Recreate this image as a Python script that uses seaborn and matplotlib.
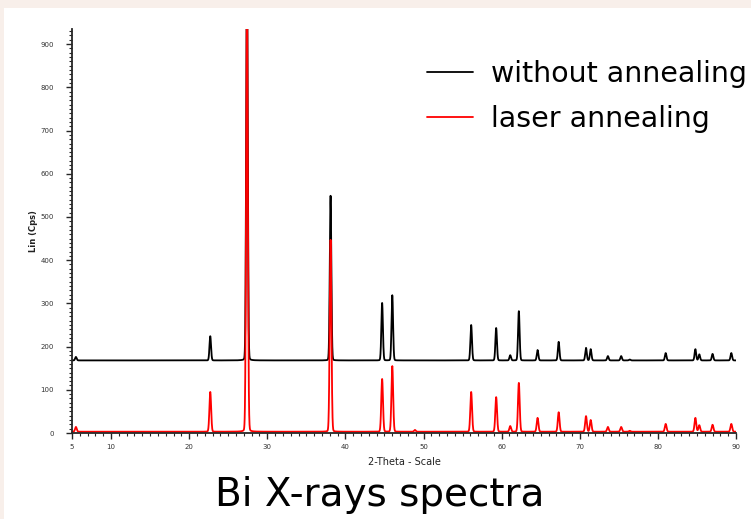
import numpy as np
import pandas as pd
import matplotlib
matplotlib.use("Agg")
import matplotlib.pyplot as plt
import seaborn as sns
from matplotlib.ticker import MultipleLocator, FixedLocator

# ---- data ----
series_names = ["without annealing", "laser annealing"]
series_colors = ["#000000", "#ff0000"]

# black trace (without annealing)
black_baseline = 168
black_pos = [5.5, 22.7, 27.4, 38.1, 44.7, 46.0, 56.1, 59.3, 61.1, 62.2, 64.6, 67.3,
             70.8, 71.4, 73.6, 75.3, 76.4, 81.0, 84.8, 85.3, 87.0, 89.4]
black_hgt = [176, 224, 1100, 549, 301, 319, 250, 243, 180, 282, 192, 211,
             197, 194, 178, 178, 170, 185, 194, 182, 183, 185]

# red trace (laser annealing)
red_baseline = 3
red_pos = [5.5, 22.7, 27.4, 38.1, 44.7, 46.0, 48.9, 56.1, 59.3, 61.1, 62.2, 64.6, 67.3,
           70.8, 71.4, 73.6, 75.3, 76.4, 81.0, 84.8, 85.3, 87.0, 89.4]
red_hgt = [14, 95, 1000, 447, 125, 155, 7, 95, 83, 16, 116, 35, 48,
           39, 30, 14, 14, 5, 21, 35, 18, 19, 21]

x_ticks = [5, 10, 20, 30, 40, 50, 60, 70, 80, 90]
y_ticks = [0, 100, 200, 300, 400, 500, 600, 700, 800, 900]


def spectrum(x, base, pos, hgt, w):
    y = np.full_like(x, float(base))
    for p, h in zip(pos, hgt):
        a = h - base
        g = np.exp(-0.5 * ((x - p) / w) ** 2)
        l = 1.0 / (1.0 + ((x - p) / w) ** 2)
        y += a * (0.95 * g + 0.05 * l)
    return y


x = np.linspace(5, 90, 6000)
df = pd.concat([
    pd.DataFrame({"2theta": x, "counts": spectrum(x, black_baseline, black_pos, black_hgt, 0.1),
                  "series": series_names[0]}),
    pd.DataFrame({"2theta": x, "counts": spectrum(x, red_baseline, red_pos, red_hgt, 0.11),
                  "series": series_names[1]}),
])

sns.set_style("white")
plt.rcParams["font.family"] = ["DejaVu Sans"]

fig = plt.figure(figsize=(7.51, 5.19), dpi=100)
fig.patch.set_facecolor("#f8efea")
# white slide area
fig.patches.append(matplotlib.patches.Rectangle((4 / 751, 0), 1, 1 - 8 / 519,
                                                transform=fig.transFigure,
                                                facecolor="white", edgecolor="none", zorder=-1))

ax = fig.add_axes([72 / 751, 1 - 433 / 519, (736 - 72) / 751, (433 - 29) / 519])
ax.set_facecolor("white")
sns.lineplot(data=df, x="2theta", y="counts", hue="series", palette=series_colors,
             hue_order=series_names, linewidth=1.3, ax=ax, estimator=None, sort=False)

ax.set_xlim(5, 90)
ax.set_ylim(0, 935)
for s in ["top", "right"]:
    ax.spines[s].set_visible(False)
ax.spines["left"].set_linewidth(1.3)
ax.spines["bottom"].set_linewidth(1.3)

ax.xaxis.set_major_locator(FixedLocator(x_ticks))
ax.xaxis.set_minor_locator(MultipleLocator(1))
ax.yaxis.set_major_locator(FixedLocator(y_ticks))
ax.yaxis.set_minor_locator(MultipleLocator(10))
ax.tick_params(axis="both", which="major", direction="out", length=4, width=1,
               labelsize=5, labelcolor="#333333", bottom=True, left=True)
ax.tick_params(axis="both", which="minor", direction="out", length=2.5, width=0.8,
               bottom=True, left=True)
ax.tick_params(axis="y", which="major", pad=9)
ax.tick_params(axis="x", which="major", pad=4)

ax.set_xlabel("2-Theta - Scale", fontsize=7, color="#222222", labelpad=5)
ax.set_ylabel("Lin (Cps)", fontsize=6, fontweight="bold", color="#222222", labelpad=2)

handles, labels = ax.get_legend_handles_labels()
leg = ax.legend(handles, labels, loc="upper left",
                bbox_to_anchor=((427 - 72) / 664, (433 - 60) / 404),
                frameon=False, fontsize=20.5, handlelength=1.6, handletextpad=0.65,
                labelspacing=0.58, borderaxespad=0, borderpad=0)
for h in leg.legend_handles:
    h.set_linewidth(1.3)
for t in leg.get_texts():
    t.set_color("black")

fig.text(380 / 751, 1 - 495 / 519, "Bi X-rays spectra", fontsize=28,
         ha="center", va="center", color="black")

fig.savefig("out.png", dpi=100, facecolor=fig.get_facecolor())
